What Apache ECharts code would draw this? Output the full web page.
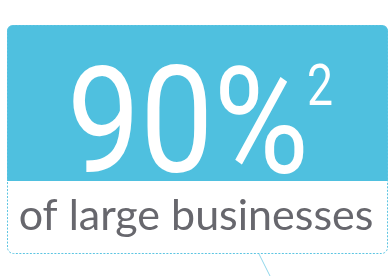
<!DOCTYPE html>
<html>
<head>
<meta charset="utf-8">
<script src="https://cdn.jsdelivr.net/npm/echarts@6/dist/echarts.min.js"></script>
<style>
  html, body { margin: 0; padding: 0; background: #fff; }
  #chart { width: 391px; height: 276px; }
</style>
</head>
<body>
<div id="chart"></div>
<script>
// dados do card
const valor = [90];
const nota = ["2"];
const legenda = ["of large businesses"];

const azul = "#4fc0df";
const cinza = "#67676d";

let myChart = echarts.init(document.getElementById("chart"));

let option = {
    animation: false,
    graphic: [
        // fundo azul
        {
            type: "rect",
            shape: { x: 7, y: 25, width: 381, height: 156, r: [6, 6, 0, 0] },
            style: { fill: azul }
        },
        // borda tracejada
        {
            type: "rect",
            shape: { x: 7.5, y: 25.5, width: 380, height: 228, r: 6 },
            style: { fill: "none", stroke: "#5cc5e2", lineWidth: 1, lineDash: [2, 1.5] }
        },
        // linha de ligacao
        {
            type: "line",
            shape: { x1: 259, y1: 254, x2: 270, y2: 276 },
            style: { stroke: "#8fd6ea", lineWidth: 1 }
        },
        {
            type: "text",
            x: 188, y: 135,
            scaleX: 0.88,
            style: {
                text: valor[0] + "%",
                fill: "#fff",
                fontFamily: "Roboto",
                fontWeight: "normal",
                fontSize: 148,
                align: "center",
                verticalAlign: "middle"
            }
        },
        {
            type: "text",
            x: 320, y: 90,
            scaleX: 0.8,
            style: {
                text: nota[0],
                fill: "#fff",
                fontFamily: "Roboto",
                fontWeight: "normal",
                fontSize: 58,
                align: "center",
                verticalAlign: "middle"
            }
        },
        {
            type: "text",
            x: 196, y: 216,
            style: {
                text: legenda[0],
                fill: cinza,
                fontFamily: "Lato",
                fontSize: 43,
                align: "center",
                verticalAlign: "middle"
            }
        }
    ]
};

myChart.setOption(option);
</script>
</body>
</html>
